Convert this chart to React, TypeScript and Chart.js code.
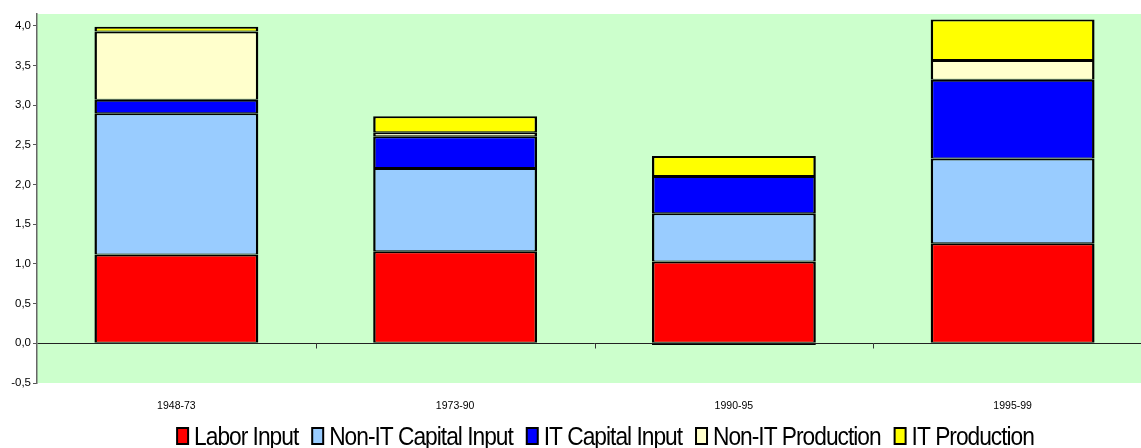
import React, { useEffect, useRef } from 'react';
import { Chart, registerables } from 'chart.js';

Chart.register(...registerables);

// Periods on the category axis
const categories = ['1948-73', '1973-90', '1990-95', '1995-99'];

// Contributions per period (percentage points)
const laborInput = [1.12, 1.16, 1.03, 1.26];
const nonItCapitalInput = [1.78, 1.05, 0.61, 1.07];
const itCapitalInput = [0.17, 0.4, 0.47, 0.99];
const nonItProduction = [0.86, 0.05, -0.02, 0.25];
const itProduction = [0.06, 0.2, 0.25, 0.51];

const seriesNames = ['Labor Input', 'Non-IT Capital Input', 'IT Capital Input', 'Non-IT Production', 'IT Production'];
const seriesColors = ['#FF0000', '#99CCFF', '#0000FF', '#FFFFCC', '#FFFF00'];
const seriesValues = [laborInput, nonItCapitalInput, itCapitalInput, nonItProduction, itProduction];

// Value axis range and step
const yMin = -0.5;
const yMax = 4.15;
const yStep = 0.5;

const CANVAS_W = 1160;
const CANVAS_H = 448;
const FONT = "'Liberation Sans', Arial, Helvetica, sans-serif";

// Pale green plot area
const plotBackground = {
  id: 'plotBackground',
  beforeDraw(chart: any) {
    const { ctx, chartArea: a } = chart;
    ctx.save();
    ctx.fillStyle = '#CCFFCC';
    ctx.fillRect(a.left, a.top, a.right - a.left, a.bottom - a.top);
    ctx.restore();
  },
};

// Small tick marks on the zero line between categories
const categoryTicks = {
  id: 'categoryTicks',
  afterDatasetsDraw(chart: any) {
    const { ctx } = chart;
    const xs = chart.scales.x;
    const ys = chart.scales.y;
    const y0 = Math.round(ys.getPixelForValue(0)) + 0.5;
    ctx.save();
    ctx.strokeStyle = '#333';
    ctx.lineWidth = 1;
    ctx.beginPath();
    for (let i = 1; i < categories.length; i++) {
      const px = Math.round((xs.getPixelForValue(i - 1) + xs.getPixelForValue(i)) / 2) + 0.5;
      ctx.moveTo(px, y0);
      ctx.lineTo(px, y0 + 5);
    }
    ctx.stroke();
    ctx.restore();
  },
};

// Condensed, tightly set legend row beneath the axis labels
const LEGEND_SIZE = 25;
const LEGEND_SQUEEZE = 0.91;
const LEGEND_TRACKING = '-1.1px';
const LEGEND_CENTER_X = 605;
const LEGEND_BASELINE = 445;
const squeezedLegend = {
  id: 'squeezedLegend',
  afterDraw(chart: any) {
    const { ctx } = chart;
    const boxW = 13;
    const boxH = 18;
    const gap = 5;
    const spacing = 13;
    ctx.save();
    ctx.font = `${LEGEND_SIZE}px ${FONT}`;
    (ctx as any).letterSpacing = LEGEND_TRACKING;
    const items = chart.data.datasets.map((ds: any) => ({
      label: ds.label as string,
      color: ds.backgroundColor as string,
      w: ctx.measureText(ds.label).width * LEGEND_SQUEEZE,
    }));
    const total =
      items.reduce((s: number, it: any) => s + boxW + gap + it.w, 0) + spacing * (items.length - 1);
    let x = LEGEND_CENTER_X - total / 2;
    for (const it of items) {
      ctx.fillStyle = it.color;
      ctx.fillRect(x + 1, LEGEND_BASELINE - boxH + 1, boxW - 2, boxH - 2);
      ctx.strokeStyle = '#000';
      ctx.lineWidth = 2;
      ctx.strokeRect(x + 1, LEGEND_BASELINE - boxH + 1, boxW - 2, boxH - 2);
      ctx.save();
      ctx.translate(x + boxW + gap, LEGEND_BASELINE);
      ctx.scale(LEGEND_SQUEEZE, 1);
      ctx.fillStyle = '#000';
      ctx.textBaseline = 'alphabetic';
      ctx.textAlign = 'left';
      ctx.fillText(it.label, 0, 0);
      ctx.restore();
      x += boxW + gap + it.w + spacing;
    }
    ctx.restore();
  },
};

export default function App() {
  const canvasRef = useRef<HTMLCanvasElement>(null);

  useEffect(() => {
    const canvas = canvasRef.current;
    if (!canvas) return;
    const chart = new Chart(canvas, {
      type: 'bar',
      data: {
        labels: categories,
        datasets: seriesNames.map((name, i) => ({
          label: name,
          data: seriesValues[i],
          backgroundColor: seriesColors[i],
          borderColor: '#000000',
          borderWidth: { left: 2.5, right: 2.5, top: 2, bottom: 1 },
          borderSkipped: false,
          barPercentage: 0.588,
          categoryPercentage: 1,
        })),
      },
      options: {
        animation: false,
        responsive: false,
        devicePixelRatio: 1,
        layout: { padding: { top: 14, bottom: 35, left: 0, right: 8 } },
        plugins: {
          legend: { display: false },
          tooltip: { enabled: false },
        },
        scales: {
          x: {
            stacked: true,
            grid: { display: false, drawTicks: false },
            border: { display: false },
            ticks: {
              color: '#000',
              font: { family: FONT, size: 10.5 },
              padding: 17,
              maxRotation: 0,
              autoSkip: false,
            },
            afterFit(scale: any) {
              scale.height = 30;
            },
          },
          y: {
            stacked: true,
            min: yMin,
            max: yMax,
            ticks: {
              stepSize: yStep,
              includeBounds: false,
              color: '#000',
              font: { family: FONT, size: 11.5 },
              padding: 2,
              callback: (v: any) => Number(v).toFixed(1).replace('.', ','),
            },
            grid: {
              drawOnChartArea: true,
              color: (c: any) => (c.tick && c.tick.value === 0 ? '#222222' : 'rgba(0,0,0,0)'),
              tickColor: '#555555',
              tickLength: 4,
              lineWidth: 1,
            },
            border: { display: true, color: '#666666', width: 1.5 },
            afterFit(scale: any) {
              scale.width = 37;
            },
          },
        },
      },
      plugins: [plotBackground, categoryTicks, squeezedLegend],
    });
    return () => chart.destroy();
  }, []);

  return (
    <div
      style={{
        position: 'fixed',
        left: 0,
        top: 0,
        width: 1141,
        height: 448,
        overflow: 'hidden',
        background: '#ffffff',
      }}
    >
      <canvas
        ref={canvasRef}
        width={CANVAS_W}
        height={CANVAS_H}
        style={{ display: 'block', width: CANVAS_W, height: CANVAS_H }}
      />
    </div>
  );
}
